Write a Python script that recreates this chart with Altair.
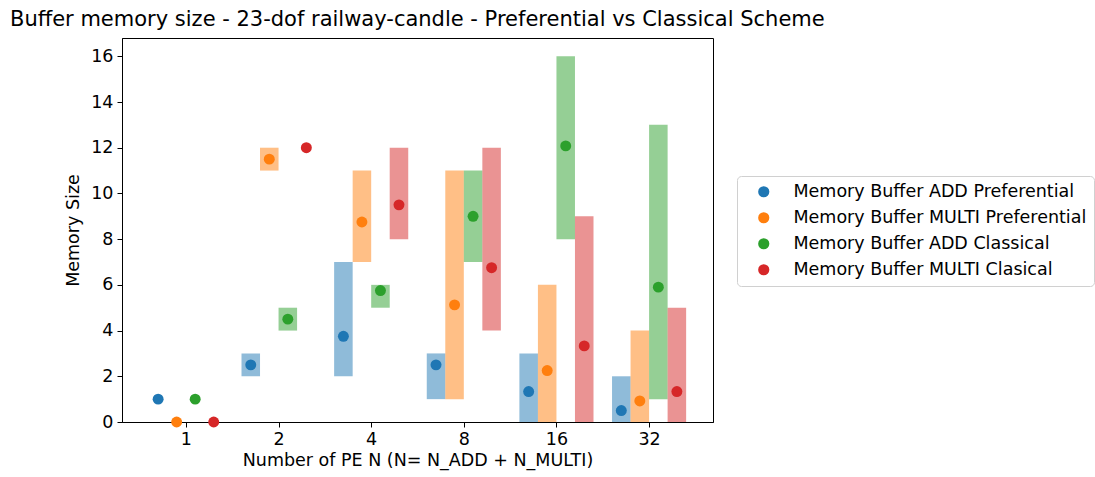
import altair as alt
import pandas as pd

groups = ["1", "2", "4", "8", "16", "32"]
series = [
    "Memory Buffer ADD Preferential",
    "Memory Buffer MULTI Preferential",
    "Memory Buffer ADD Classical",
    "Memory Buffer MULTI Clasical",
]
colors = ["#1f77b4", "#ff7f0e", "#2ca02c", "#d62728"]

# mean values (points)
add_pref_mean = [1, 2.5, 3.75, 2.5, 1.33, 0.5]
multi_pref_mean = [0, 11.5, 8.75, 5.125, 2.25, 0.92]
add_clas_mean = [1, 4.5, 5.75, 9, 12.08, 5.9]
multi_clas_mean = [0, 12, 9.5, 6.75, 3.33, 1.33]

# min / max (bars)
add_pref_min = [1, 2, 2, 1, 0, 0]
add_pref_max = [1, 3, 7, 3, 3, 2]
multi_pref_min = [0, 11, 7, 1, 0, 0]
multi_pref_max = [0, 12, 11, 11, 6, 4]
add_clas_min = [1, 4, 5, 7, 8, 1]
add_clas_max = [1, 5, 6, 11, 16, 13]
multi_clas_min = [0, 12, 8, 4, 0, 0]
multi_clas_max = [0, 12, 12, 12, 9, 5]

means = [add_pref_mean, multi_pref_mean, add_clas_mean, multi_clas_mean]
mins = [add_pref_min, multi_pref_min, add_clas_min, multi_clas_min]
maxs = [add_pref_max, multi_pref_max, add_clas_max, multi_clas_max]

bar_w = 0.2
rows = []
for si, s in enumerate(series):
    for gi, g in enumerate(groups):
        xc = gi + (si - 1.5) * bar_w
        rows.append({
            "series": s,
            "group": g,
            "x": xc,
            "x0": xc - bar_w / 2,
            "x1": xc + bar_w / 2,
            "mean": means[si][gi],
            "lo": mins[si][gi],
            "hi": maxs[si][gi],
        })
df = pd.DataFrame(rows)

label_expr = "[" + ",".join("'%s'" % g for g in groups) + "][datum.value]"

FS = 17.5

xscale = alt.Scale(domain=[-0.69, 5.69], nice=False, zero=False)
yscale = alt.Scale(domain=[0, 16.8], nice=False)
color_scale = alt.Scale(domain=series, range=colors)

x_axis = alt.Axis(
    values=list(range(len(groups))),
    labelExpr=label_expr,
    title="Number of PE N (N= N_ADD + N_MULTI)",
    grid=False,
    tickColor="black",
    domainColor="black",
    tickSize=5,
    labelFontSize=FS,
    titleFontSize=FS,
    titleFontWeight="normal",
    labelColor="black",
    titleColor="black",
    labelPadding=3,
    titlePadding=4,
)
y_axis = alt.Axis(
    values=list(range(0, 17, 2)),
    title="Memory Size",
    grid=False,
    tickColor="black",
    domainColor="black",
    tickSize=5,
    labelFontSize=FS,
    titleFontSize=FS,
    titleFontWeight="normal",
    labelColor="black",
    titleColor="black",
    labelPadding=4,
    titlePadding=8,
)

legend = alt.Legend(
    title=None,
    orient="none",
    legendX=615,
    legendY=138,
    symbolType="circle",
    symbolSize=125,
    symbolOpacity=1,
    symbolStrokeWidth=0,
    symbolOffset=11,
    labelFontSize=FS,
    labelColor="black",
    labelOffset=21,
    rowPadding=7,
    padding=7,
    strokeColor="#d0d0d0",
    fillColor="white",
    cornerRadius=4,
    labelLimit=400,
    offset=0,
)

base = alt.Chart(df)

bars = base.mark_bar(opacity=0.5).encode(
    x=alt.X("x0:Q", scale=xscale, axis=x_axis),
    x2="x1:Q",
    y=alt.Y("lo:Q", scale=yscale, axis=y_axis),
    y2="hi:Q",
    color=alt.Color("series:N", scale=color_scale, sort=series, legend=legend),
)

points = base.mark_circle(size=120, opacity=1).encode(
    x=alt.X("x:Q", scale=xscale),
    y=alt.Y("mean:Q", scale=yscale),
    color=alt.Color("series:N", scale=color_scale, sort=series, legend=legend),
)

chart = (
    alt.layer(bars, points)
    .properties(
        width=591,
        height=384,
        title=alt.TitleParams(
            "Buffer memory size - 23-dof railway-candle - Preferential vs Classical Scheme",
            anchor="start",
            frame="group",
            dx=-112,
            fontSize=21,
            fontWeight="normal",
            color="black",
            offset=8,
        ),
        autosize=alt.AutoSizeParams(type="none"),
        padding={"left": 122, "top": 38, "right": 382, "bottom": 55},
    )
    .configure(font="DejaVu Sans")
    .configure_view(stroke="black", strokeWidth=1)
)

chart.save("out.html", embed_options={"renderer": "svg", "actions": False})
